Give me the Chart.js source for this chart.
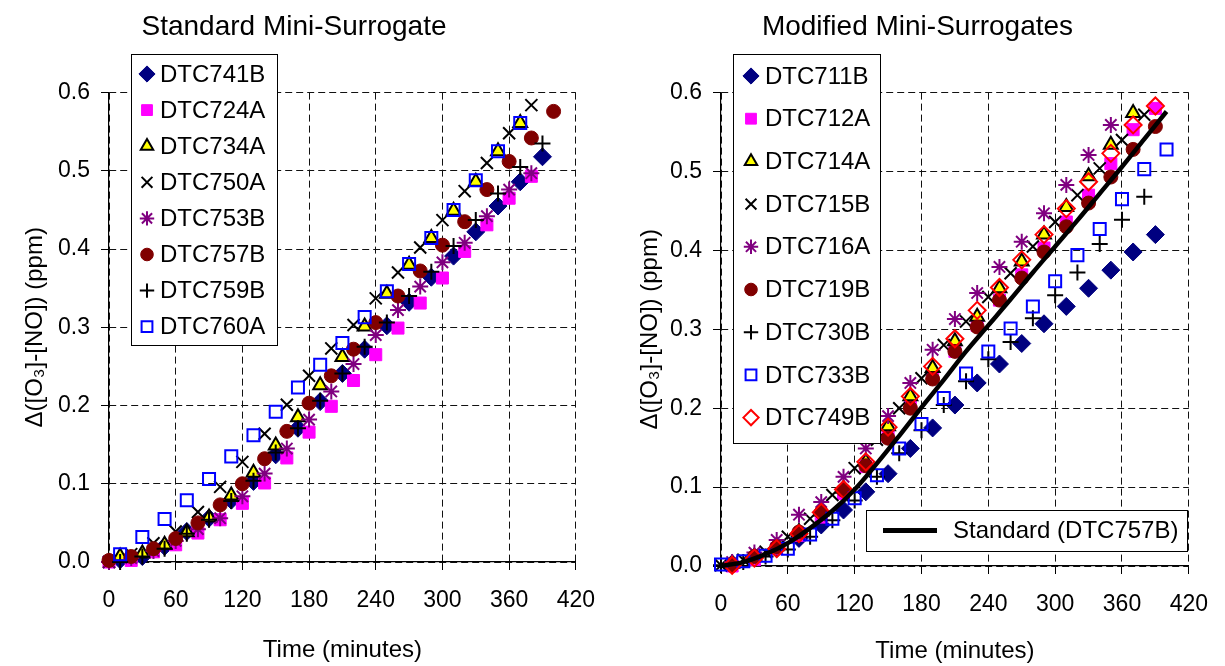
<!DOCTYPE html>
<html>
<head>
<meta charset="utf-8">
<title>Mini-Surrogate O3-NO</title>
<script src="https://cdn.jsdelivr.net/npm/chart.js@4.4.1/dist/chart.umd.min.js"></script>
<style>
  html, body { margin: 0; padding: 0; background: #fff; }
  canvas { position: absolute; top: 0; }
  #left { left: 0; }
  #right { left: 612px; }
</style>
</head>
<body>
<canvas id="left" width="612" height="666"></canvas>
<canvas id="right" width="613" height="666"></canvas>
<script>
// ---- data (time in minutes, delta in ppm) ----
const xTicks = [0, 60, 120, 180, 240, 300, 360, 420];
const yTicks = [0.0, 0.1, 0.2, 0.3, 0.4, 0.5, 0.6];

// Standard Mini-Surrogate
const t741B = [10, 30, 50, 70, 90, 110, 130, 150, 170, 190, 210, 230, 250, 270, 290, 310, 330, 350, 370, 390];
const v741B = [0.003, 0.007, 0.020, 0.039, 0.056, 0.079, 0.103, 0.137, 0.171, 0.205, 0.241, 0.272, 0.302, 0.332, 0.364, 0.391, 0.422, 0.455, 0.486, 0.518];
const t724A = [0, 20, 40, 60, 80, 100, 120, 140, 160, 180, 200, 220, 240, 260, 280, 300, 320, 340, 360, 380];
const v724A = [0.000, 0.002, 0.013, 0.022, 0.037, 0.054, 0.075, 0.101, 0.133, 0.166, 0.199, 0.232, 0.265, 0.299, 0.331, 0.363, 0.397, 0.431, 0.465, 0.493];
const t734A = [10, 30, 50, 70, 90, 110, 130, 150, 170, 190, 210, 230, 250, 270, 290, 310, 330, 350, 370];
const v734A = [0.007, 0.011, 0.022, 0.038, 0.057, 0.085, 0.114, 0.149, 0.185, 0.226, 0.262, 0.301, 0.343, 0.380, 0.414, 0.449, 0.486, 0.525, 0.561];
const t750A = [0, 20, 40, 60, 80, 100, 120, 140, 160, 180, 200, 220, 240, 260, 280, 300, 320, 340, 360, 380];
const v750A = [0.000, 0.010, 0.024, 0.039, 0.064, 0.096, 0.128, 0.164, 0.201, 0.238, 0.273, 0.303, 0.337, 0.370, 0.402, 0.437, 0.474, 0.510, 0.548, 0.584];
const t753B = [0, 20, 40, 60, 80, 100, 120, 140, 160, 180, 200, 220, 240, 260, 280, 300, 320, 340, 360, 380];
const v753B = [0.000, 0.005, 0.014, 0.027, 0.042, 0.056, 0.084, 0.113, 0.145, 0.182, 0.218, 0.253, 0.290, 0.322, 0.352, 0.383, 0.408, 0.442, 0.476, 0.497];
const t757B = [0, 20, 40, 60, 80, 100, 120, 140, 160, 180, 200, 220, 240, 260, 280, 300, 320, 340, 360, 380, 400];
const v757B = [0.002, 0.007, 0.017, 0.030, 0.050, 0.073, 0.100, 0.132, 0.167, 0.203, 0.238, 0.272, 0.306, 0.340, 0.372, 0.405, 0.435, 0.476, 0.512, 0.542, 0.576];
const t759B = [10, 30, 50, 70, 90, 110, 130, 150, 170, 190, 210, 230, 250, 270, 290, 310, 330, 350, 370, 390];
const v759B = [0.000, 0.007, 0.017, 0.036, 0.054, 0.078, 0.104, 0.140, 0.171, 0.206, 0.241, 0.275, 0.306, 0.340, 0.371, 0.404, 0.437, 0.471, 0.505, 0.535];
const t760A = [10, 30, 50, 70, 90, 110, 130, 150, 170, 190, 210, 230, 250, 270, 290, 310, 330, 350, 370];
const v760A = [0.010, 0.032, 0.055, 0.079, 0.106, 0.135, 0.162, 0.192, 0.223, 0.252, 0.280, 0.313, 0.346, 0.381, 0.414, 0.450, 0.488, 0.525, 0.561];

// Modified Mini-Surrogates
const t711B = [10, 30, 50, 70, 90, 110, 130, 150, 170, 190, 210, 230, 250, 270, 290, 310, 330, 350, 370, 390];
const v711B = [0.003, 0.011, 0.022, 0.035, 0.052, 0.071, 0.094, 0.117, 0.149, 0.175, 0.204, 0.232, 0.256, 0.282, 0.307, 0.329, 0.352, 0.375, 0.398, 0.420];
const t712A = [10, 30, 50, 70, 90, 110, 130, 150, 170, 190, 210, 230, 250, 270, 290, 310, 330, 350, 370, 390];
const v712A = [0.000, 0.008, 0.022, 0.039, 0.062, 0.092, 0.126, 0.164, 0.204, 0.240, 0.272, 0.305, 0.337, 0.369, 0.403, 0.436, 0.470, 0.510, 0.553, 0.580];
const t714A = [10, 30, 50, 70, 90, 110, 130, 150, 170, 190, 210, 230, 250, 270, 290, 310, 330, 350, 370];
const v714A = [0.003, 0.012, 0.025, 0.043, 0.069, 0.098, 0.132, 0.177, 0.215, 0.251, 0.285, 0.316, 0.352, 0.386, 0.420, 0.455, 0.494, 0.534, 0.574];
const t715B = [0, 20, 40, 60, 80, 100, 120, 140, 160, 180, 200, 220, 240, 260, 280, 300, 320, 340, 360, 380];
const v715B = [0.001, 0.008, 0.018, 0.037, 0.060, 0.090, 0.124, 0.160, 0.200, 0.238, 0.280, 0.310, 0.341, 0.371, 0.405, 0.436, 0.470, 0.504, 0.540, 0.572];
const t716A = [10, 30, 50, 70, 90, 110, 130, 150, 170, 190, 210, 230, 250, 270, 290, 310, 330, 350];
const v716A = [0.005, 0.017, 0.033, 0.065, 0.081, 0.113, 0.149, 0.190, 0.232, 0.274, 0.313, 0.346, 0.379, 0.411, 0.447, 0.483, 0.521, 0.559];
const t719B = [10, 30, 50, 70, 90, 110, 130, 150, 170, 190, 210, 230, 250, 270, 290, 310, 330, 350, 370, 390];
const v719B = [0.001, 0.012, 0.024, 0.043, 0.068, 0.096, 0.127, 0.162, 0.200, 0.237, 0.272, 0.303, 0.337, 0.365, 0.398, 0.430, 0.460, 0.493, 0.528, 0.557];
const t730B = [0, 20, 40, 60, 80, 100, 120, 140, 160, 180, 200, 220, 240, 260, 280, 300, 320, 340, 360, 380];
const v730B = [0.001, 0.005, 0.012, 0.021, 0.037, 0.058, 0.083, 0.113, 0.143, 0.172, 0.204, 0.234, 0.262, 0.284, 0.314, 0.343, 0.372, 0.408, 0.439, 0.468];
const t733B = [0, 20, 40, 60, 80, 100, 120, 140, 160, 180, 200, 220, 240, 260, 280, 300, 320, 340, 360, 380, 400];
const v733B = [0.002, 0.006, 0.013, 0.022, 0.040, 0.060, 0.086, 0.115, 0.149, 0.180, 0.213, 0.244, 0.272, 0.301, 0.329, 0.361, 0.394, 0.427, 0.465, 0.503, 0.528];
const t749B = [10, 30, 50, 70, 90, 110, 130, 150, 170, 190, 210, 230, 250, 270, 290, 310, 330, 350, 370, 390];
const v749B = [0.001, 0.010, 0.022, 0.041, 0.068, 0.097, 0.132, 0.176, 0.215, 0.253, 0.288, 0.324, 0.353, 0.388, 0.420, 0.453, 0.487, 0.523, 0.559, 0.583];
const tStd = [0, 20, 40, 60, 80, 100, 120, 140, 160, 180, 200, 220, 240, 260, 280, 300, 320, 340, 360, 380, 400];
const vStd = [0.000, 0.005, 0.015, 0.029, 0.048, 0.070, 0.097, 0.130, 0.165, 0.201, 0.236, 0.272, 0.305, 0.338, 0.372, 0.405, 0.438, 0.472, 0.506, 0.541, 0.576];

// ---- styles ----
const FAMILY = '"Liberation Sans", Arial, Helvetica, sans-serif';
const NAVY = '#000080', MAGENTA = '#ff00ff', YELLOW = '#ffff00', PURPLE = '#800080';
const MAROON = '#800000', BLUE = '#0000ff', RED = '#ff0000', NONE = 'rgba(0,0,0,0)';

const marker = {
  diamond: { pointStyle: 'rectRot', r: 9, fill: NAVY, line: NAVY, w: 1 },
  square: { pointStyle: 'rect', r: 8.5, fill: MAGENTA, line: MAGENTA, w: 1 },
  triangle: { pointStyle: 'triangle', r: 8, fill: YELLOW, line: '#000', w: 2 },
  ex: { pointStyle: 'crossRot', r: 8.5, fill: NONE, line: '#000', w: 2 },
  star: { pointStyle: 'star', r: 8, fill: NONE, line: PURPLE, w: 2 },
  circle: { pointStyle: 'circle', r: 7, fill: MAROON, line: MAROON, w: 1 },
  plus: { pointStyle: 'cross', r: 8, fill: NONE, line: '#000', w: 2 },
  openSquare: { pointStyle: 'rect', r: 8.5, fill: NONE, line: BLUE, w: 2 },
  openDiamond: { pointStyle: 'rectRot', r: 8.5, fill: NONE, line: RED, w: 2 }
};

function pts(t, v) {
  return t.map((x, i) => ({ x: x, y: v[i] }));
}

function series(label, t, v, m, order) {
  return {
    label: label,
    data: pts(t, v),
    showLine: false,
    clip: false,
    order: order,
    pointStyle: m.pointStyle,
    pointRadius: m.r,
    pointHoverRadius: m.r,
    pointBackgroundColor: m.fill,
    pointBorderColor: m.line,
    pointBorderWidth: m.w,
    backgroundColor: m.fill,
    borderColor: m.line
  };
}

// boxed legends drawn over the plot area, like the spreadsheet original
const boxLegend = {
  id: 'boxLegend',
  afterDraw(chart, args, opts) {
    const ctx = chart.ctx;
    (opts.boxes || []).forEach((b) => {
      ctx.save();
      ctx.fillStyle = '#fff';
      ctx.fillRect(b.x, b.y, b.w, b.h);
      ctx.strokeStyle = '#000';
      ctx.lineWidth = 1;
      ctx.strokeRect(b.x + 0.5, b.y + 0.5, b.w, b.h);
      ctx.font = '24px ' + FAMILY;
      ctx.textBaseline = 'middle';
      ctx.textAlign = 'left';
      b.items.forEach((idx, i) => {
        const ds = chart.data.datasets[idx];
        const y = b.firstY + i * b.rowH;
        if (ds.showLine) {
          ctx.strokeStyle = ds.borderColor;
          ctx.lineWidth = 5;
          ctx.beginPath();
          ctx.moveTo(b.lineX0, y);
          ctx.lineTo(b.lineX1, y);
          ctx.stroke();
        } else {
          ctx.fillStyle = ds.pointBackgroundColor;
          ctx.strokeStyle = ds.pointBorderColor;
          ctx.lineWidth = ds.pointBorderWidth;
          Chart.helpers.drawPoint(ctx, {
            pointStyle: ds.pointStyle,
            radius: ds.pointRadius * 0.9,
            rotation: 0,
            borderWidth: ds.pointBorderWidth
          }, b.markerX, y);
        }
        ctx.fillStyle = '#000';
        ctx.fillText(ds.label, b.textX, y + 1);
      });
      ctx.restore();
    });
  }
};

function makeScales(yWidth, yTitlePad, xHeight, xTitlePad) {
  const tickFont = { family: FAMILY, size: 23 };
  const axisFont = { family: FAMILY, size: 24 };
  return {
    x: {
      type: 'linear',
      min: xTicks[0],
      max: xTicks[xTicks.length - 1],
      afterBuildTicks: (s) => { s.ticks = xTicks.map((v) => ({ value: v })); },
      ticks: { font: tickFont, color: '#000', padding: 17, maxRotation: 0, autoSkip: false },
      grid: { color: '#111', lineWidth: 1, tickColor: '#000', tickLength: 8, tickBorderDash: [] },
      border: { display: true, color: '#000', width: 1.2, dash: [7, 4] },
      title: { display: true, text: 'Time (minutes)', font: axisFont, color: '#000', padding: { top: 0, bottom: xTitlePad } },
      afterFit: (s) => { s.height = xHeight; }
    },
    y: {
      type: 'linear',
      min: yTicks[0],
      max: yTicks[yTicks.length - 1],
      afterBuildTicks: (s) => { s.ticks = yTicks.map((v) => ({ value: v })); },
      ticks: { font: tickFont, color: '#000', padding: 11, callback: (v) => Number(v).toFixed(1) },
      grid: { color: '#111', lineWidth: 1, tickColor: '#000', tickLength: 8, tickBorderDash: [] },
      border: { display: true, color: '#000', width: 1.2, dash: [7, 4] },
      title: { display: true, text: 'Δ([O₃]-[NO]) (ppm)', font: axisFont, color: '#000', padding: { top: yTitlePad, bottom: 0 } },
      afterFit: (s) => { s.width = yWidth; }
    }
  };
}

function baseOptions(title, pad, scales, boxes) {
  return {
    responsive: false,
    animation: false,
    events: [],
    layout: { padding: pad },
    scales: scales,
    plugins: {
      legend: { display: false },
      tooltip: { enabled: false },
      title: {
        display: true,
        text: title,
        color: '#000',
        font: { family: FAMILY, size: 28, weight: 'normal' },
        padding: { top: 10, bottom: 49 }
      },
      boxLegend: { boxes: boxes }
    }
  };
}

Chart.defaults.font.family = FAMILY;

// ---- left: Standard Mini-Surrogate ----
const leftSets = [
  series('DTC741B', t741B, v741B, marker.diamond, 8),
  series('DTC724A', t724A, v724A, marker.square, 7),
  series('DTC734A', t734A, v734A, marker.triangle, 6),
  series('DTC750A', t750A, v750A, marker.ex, 5),
  series('DTC753B', t753B, v753B, marker.star, 4),
  series('DTC757B', t757B, v757B, marker.circle, 3),
  series('DTC759B', t759B, v759B, marker.plus, 2),
  series('DTC760A', t760A, v760A, marker.openSquare, 1)
];

new Chart(document.getElementById('left'), {
  type: 'scatter',
  data: { datasets: leftSets },
  options: baseOptions('Standard Mini-Surrogate', { left: 11, right: 35, top: 0, bottom: 0 },
    makeScales(98, 10, 104, 1),
    [{ x: 131, y: 54, w: 146, h: 291, markerX: 147, textX: 160, firstY: 74, rowH: 36.1, items: [0, 1, 2, 3, 4, 5, 6, 7] }]),
  plugins: [boxLegend]
});

// ---- right: Modified Mini-Surrogates ----
const stdLine = {
  label: 'Standard (DTC757B)',
  data: pts(tStd, vStd),
  showLine: true,
  clip: false,
  order: 0,
  borderColor: '#000',
  backgroundColor: '#000',
  borderWidth: 4.5,
  pointRadius: 0,
  pointHoverRadius: 0,
  tension: 0.35
};

const rightSets = [
  series('DTC711B', t711B, v711B, marker.diamond, 9),
  series('DTC712A', t712A, v712A, marker.square, 8),
  series('DTC714A', t714A, v714A, marker.triangle, 7),
  series('DTC715B', t715B, v715B, marker.ex, 6),
  series('DTC716A', t716A, v716A, marker.star, 5),
  series('DTC719B', t719B, v719B, marker.circle, 4),
  series('DTC730B', t730B, v730B, marker.plus, 3),
  series('DTC733B', t733B, v733B, marker.openSquare, 2),
  series('DTC749B', t749B, v749B, marker.openDiamond, 1),
  stdLine
];

new Chart(document.getElementById('right'), {
  type: 'scatter',
  data: { datasets: rightSets },
  options: baseOptions('Modified Mini-Surrogates', { left: 24, right: 26, top: 0, bottom: 0 },
    makeScales(85, 0, 100, 0),
    [
      { x: 121, y: 54, w: 147, h: 389, markerX: 139, textX: 153, firstY: 76, rowH: 42.7, items: [0, 1, 2, 3, 4, 5, 6, 7, 8] },
      { x: 254, y: 510, w: 321, h: 41, lineX0: 271, lineX1: 325, textX: 341, firstY: 530.5, rowH: 0, items: [9] }
    ]),
  plugins: [boxLegend]
});
</script>
</body>
</html>
